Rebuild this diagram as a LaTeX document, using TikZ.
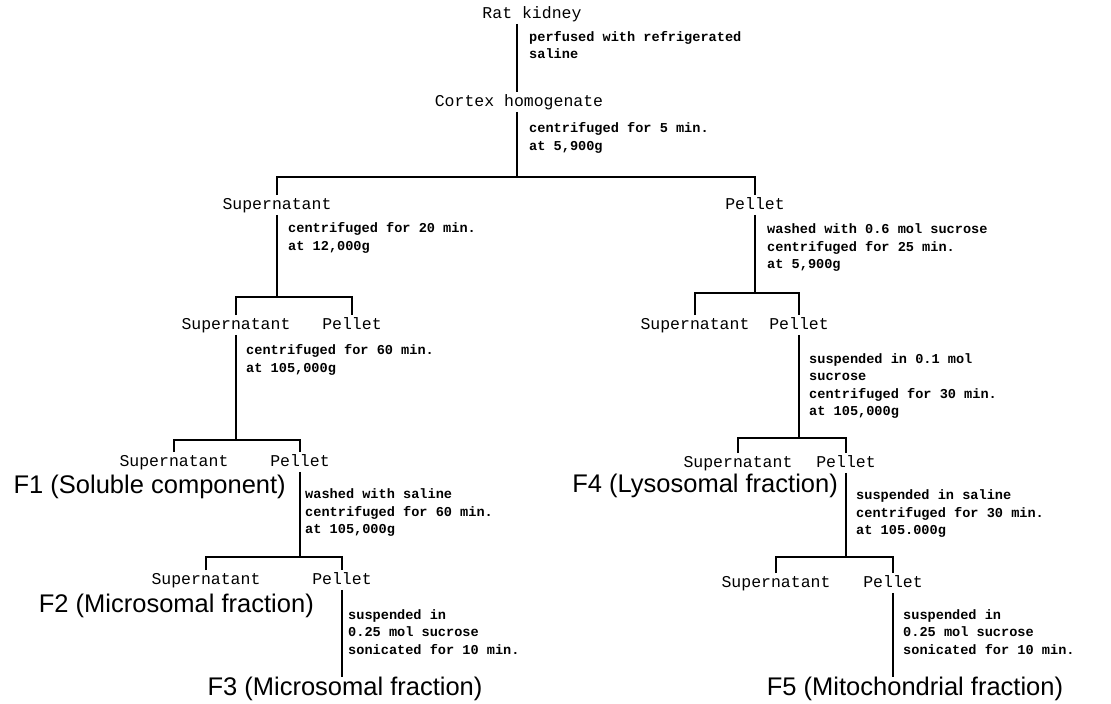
\documentclass[tikz,border=0pt]{standalone}
\usepackage{fontspec}
\setmonofont{Liberation Mono}
\setsansfont{Liberation Sans}
\usetikzlibrary{positioning}

\begin{document}
\begin{tikzpicture}[
    x=1pt, y=-1pt,
    frac/.style={inner xsep=1.5pt, inner ysep=2pt, text height=12pt, text depth=3.5pt,
      font=\ttfamily\fontsize{16.5}{19}\selectfont},
    proc/.style={anchor=west, inner sep=0pt, align=left,
      font=\ttfamily\bfseries\fontsize{13.6}{17.5}\selectfont},
    fr/.style={inner sep=0pt, font=\sffamily\fontsize{25.5}{30}\selectfont},
    tree/.style={line width=2pt},
  ]
    \useasboundingbox[fill=white] (0,0) rectangle (1111,704);
    % top
    \node[frac] (rat) at (532,14) {Rat kidney};
    \node[frac] (cortex) at (519,102) {Cortex homogenate};
    \node[frac] (sup1) at (277,205) {Supernatant};
    \node[frac] (pel1) at (755,205) {Pellet};
    \coordinate (j0) at (517,177);
    \draw[tree] (rat.south -| j0) -- (cortex.north -| j0);
    \draw[tree] (cortex.south -| j0) -- (j0);
    \draw[tree] (sup1.north) -- (sup1.north |- j0) -- (pel1.north |- j0) -- (pel1.north);
    \node[proc] at (529,45) {perfused with refrigerated\\saline};
    \node[proc] at (529,138) {centrifuged for 5 min.\\at 5,900g};
    % left branch
    \node[frac] (sup2) at (236,325) {Supernatant};
    \node[frac] (pel2) at (352,325) {Pellet};
    \coordinate (j1) at (277,297);
    \draw[tree] (sup1.south) -- (j1);
    \draw[tree] (sup2.north) -- (sup2.north |- j1) -- (pel2.north |- j1) -- (pel2.north);
    \node[proc] at (288,238) {centrifuged for 20 min.\\at 12,000g};
    \node[frac] (sup3) at (174,462) {Supernatant};
    \node[frac] (pel3) at (300,462) {Pellet};
    \node[fr, anchor=east] (f1) at (286,487) {F1 (Soluble component)};
    \coordinate (j2) at (236,440);
    \draw[tree] (sup2.south) -- (j2);
    \draw[tree] (sup3.north) -- (sup3.north |- j2) -- (pel3.north |- j2) -- (pel3.north);
    \node[proc] at (246,360) {centrifuged for 60 min.\\at 105,000g};
    \node[frac] (sup4) at (206,580) {Supernatant};
    \node[frac] (pel4) at (342,580) {Pellet};
    \node[fr, anchor=east] (f2) at (314,606) {F2 (Microsomal fraction)};
    \coordinate (j3) at (300,557);
    \draw[tree] (pel3.south) -- (j3);
    \draw[tree] (sup4.north) -- (sup4.north |- j3) -- (pel4.north |- j3) -- (pel4.north);
    \node[proc] at (305,513) {washed with saline\\centrifuged for 60 min.\\at 105,000g};
    \node[fr] (f3) at (345,689) {F3 (Microsomal fraction)};
    \draw[tree] (pel4.south) -- (f3.north -| pel4.south);
    \node[proc] at (348,632) {suspended in\\0.25 mol sucrose\\sonicated for 10 min.};
    % right branch
    \node[frac] (sup5) at (695,325) {Supernatant};
    \node[frac] (pel5) at (799,325) {Pellet};
    \coordinate (j4) at (755,293);
    \draw[tree] (pel1.south) -- (j4);
    \draw[tree] (sup5.north) -- (sup5.north |- j4) -- (pel5.north |- j4) -- (pel5.north);
    \node[proc] at (767,248) {washed with 0.6 mol sucrose\\centrifuged for 25 min.\\at 5,900g};
    \node[frac] (sup6) at (738,463) {Supernatant};
    \node[frac] (pel6) at (846,463) {Pellet};
    \node[fr, anchor=east] (f4) at (838,486) {F4 (Lysosomal fraction)};
    \coordinate (j5) at (799,438);
    \draw[tree] (pel5.south) -- (j5);
    \draw[tree] (sup6.north) -- (sup6.north |- j5) -- (pel6.north |- j5) -- (pel6.north);
    \node[proc] at (809,386) {suspended in 0.1 mol\\sucrose\\centrifuged for 30 min.\\at 105,000g};
    \node[frac] (sup7) at (776,583) {Supernatant};
    \node[frac] (pel7) at (893,583) {Pellet};
    \coordinate (j6) at (846,557);
    \draw[tree] (pel6.south) -- (j6);
    \draw[tree] (sup7.north) -- (sup7.north |- j6) -- (pel7.north |- j6) -- (pel7.north);
    \node[proc] at (856,514) {suspended in saline\\centrifuged for 30 min.\\at 105.000g};
    \node[fr] (f5) at (915,689) {F5 (Mitochondrial fraction)};
    \draw[tree] (pel7.south) -- (f5.north -| pel7.south);
    \node[proc] at (903,632) {suspended in\\0.25 mol sucrose\\sonicated for 10 min.};
\end{tikzpicture}
\end{document}
